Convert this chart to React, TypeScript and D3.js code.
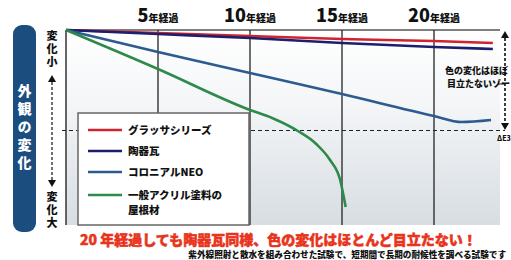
import React from 'react';
import * as d3 from 'd3';

// years elapsed vs. amount of visible change (0 = none, 100 = bottom of chart)
const glassaData: [number, number][] = [[0, 0], [5, 1.5], [10, 3], [15, 4.5], [20, 5.5], [23.2, 6.5]];
const tileData: [number, number][] = [[0, 0], [5, 2], [10, 4], [15, 6.5], [20, 8.5], [23.2, 9.5]];
const neoData: [number, number][] = [[0, 0], [5, 11], [10, 21.5], [15, 32], [20, 43], [21.5, 46], [23.1, 45]];
const acrylData: [number, number][] = [[0, 0], [5, 19.5], [10, 40], [11.2, 44], [12.6, 50.5], [13.6, 57], [14.35, 65], [14.9, 75], [15.2, 88.5]];

const yearTicks = [5, 10, 15, 20];
const deltaE = 50;

const seriesNames = ['グラッサシリーズ', '陶器瓦', 'コロニアルNEO', '一般アクリル塗料の'];
const seriesColors = ['#d1232f', '#1d1f6e', '#2c5b8f', '#2e8a4a'];

const App = () => {
    const width = 511;
    const height = 260;
    const plot = { left: 66, right: 500, top: 30, bottom: 225 };

    const x = d3.scaleLinear().domain([0, 25]).range([plot.left, plot.left + 92 * 5]);
    const y = d3.scaleLinear().domain([0, 100]).range([plot.top, plot.top + 200]);

    const line = d3.line<[number, number]>()
        .x(d => x(d[0]))
        .y(d => y(d[1]))
        .curve(d3.curveMonotoneX);

    const series = [glassaData, tileData, neoData, acrylData];
    const font = "'Noto Sans CJK JP', 'Noto Sans', sans-serif";

    const legendY = [130, 151, 172, 195];

    return (
        <svg width={width} height={height} style={{ position: 'absolute', left: 0, top: 0, fontFamily: font }}>
            <defs>
                <linearGradient id="bg" x1="0" y1="0" x2="0" y2="1">
                    <stop offset="0" stopColor="#ffffff" />
                    <stop offset="0.4" stopColor="#f3f5f7" />
                    <stop offset="1" stopColor="#d7dde2" />
                </linearGradient>
            </defs>
            <rect width={width} height={height} fill="#ffffff" />

            {/* plot background */}
            <rect x={plot.left} y={plot.top} width={plot.right - plot.left} height={plot.bottom - plot.top} fill="url(#bg)" />
            <line x1={plot.left} x2={plot.right} y1={plot.top} y2={plot.top} stroke="#555" strokeWidth={1.5} />
            <line x1={plot.left} x2={plot.left} y1={plot.top} y2={plot.bottom} stroke="#333" strokeWidth={1.5} />

            {/* year grid */}
            {yearTicks.map(t => (
                <g key={t}>
                    <line x1={x(t)} x2={x(t)} y1={plot.top} y2={plot.bottom} stroke="#222" strokeWidth={1.3} />
                    <text x={x(t)} y={22} textAnchor="middle" fontWeight={900} fill="#111">
                        <tspan fontSize={18}>{t}</tspan>
                        <tspan fontSize={10}>年経過</tspan>
                    </text>
                </g>
            ))}

            {/* ΔE threshold */}
            <line x1={plot.left - 4} x2={505} y1={y(deltaE) + 0.5} y2={y(deltaE) + 0.5} stroke="#222" strokeWidth={1.2} strokeDasharray="4,3" />

            {/* series */}
            {series.map((s, i) => (
                <path key={i} d={line(s) || ''} fill="none" stroke={seriesColors[i]} strokeWidth={2.6} />
            ))}

            {/* legend */}
            <rect x={78} y={113} width={171} height={112} fill="#ffffff" stroke="#666" strokeWidth={1.5} />
            {seriesNames.map((n, i) => (
                <g key={n}>
                    <line x1={88} x2={122} y1={legendY[i]} y2={legendY[i]} stroke={seriesColors[i]} strokeWidth={2.4} />
                    <text x={128} y={legendY[i] + 4} fontSize={10.5} fontWeight={900} fill="#111">{n}</text>
                </g>
            ))}
            <text x={128} y={214} fontSize={10.5} fontWeight={900} fill="#111">屋根材</text>

            {/* left title bar */}
            <rect x={13} y={25} width={23} height={207} rx={9} fill="#1b4e7e" />
            <text x={24.5} y={84} fontSize={14} fontWeight={900} fill="#ffffff" letterSpacing={4} style={{ writingMode: 'vertical-rl' }}>外観の変化</text>
            <text x={52} y={30} fontSize={11} fontWeight={900} fill="#111" letterSpacing={2} style={{ writingMode: 'vertical-rl' }}>変化小</text>
            <text x={52} y={191} fontSize={11} fontWeight={900} fill="#111" letterSpacing={2} style={{ writingMode: 'vertical-rl' }}>変化大</text>
            <path d="M52,75 L48,82 L56,82 Z" fill="#111" />
            <line x1={52} x2={52} y1={82} y2={180} stroke="#111" strokeWidth={1.2} strokeDasharray="3,2" />
            <path d="M52,187 L48,180 L56,180 Z" fill="#111" />

            {/* right annotation */}
            <path d="M505,31 L501,38 L509,38 Z" fill="#111" />
            <line x1={505} x2={505} y1={38} y2={123} stroke="#111" strokeWidth={1.6} strokeDasharray="3,2" />
            <path d="M505,130 L501,123 L509,123 Z" fill="#111" />
            <text x={445} y={74} fontSize={9} fontWeight={900} fill="#111">色の変化はほぼ</text>
            <text x={447} y={87} fontSize={9} fontWeight={900} fill="#111">目立たないゾー</text>
            <line x1={498} x2={505} y1={84} y2={84} stroke="#111" strokeWidth={1} />
            <text x={497} y={141} fontSize={7} fontWeight={900} fill="#111">ΔE3</text>

            {/* footer */}
            <text x={80} y={245} fontSize={14} fontWeight={900} fill="#e8341c" stroke="#e8341c" strokeWidth={0.5}>
                20 年経過しても陶器瓦同様、色の変化はほとんど目立たない！
            </text>
            <text x={506} y={258} textAnchor="end" fontSize={8.6} fontWeight={900} fill="#111">
                紫外線照射と散水を組み合わせた試験で、短期間で長期の耐候性を調べる試験です
            </text>
        </svg>
    );
};

export default App;
